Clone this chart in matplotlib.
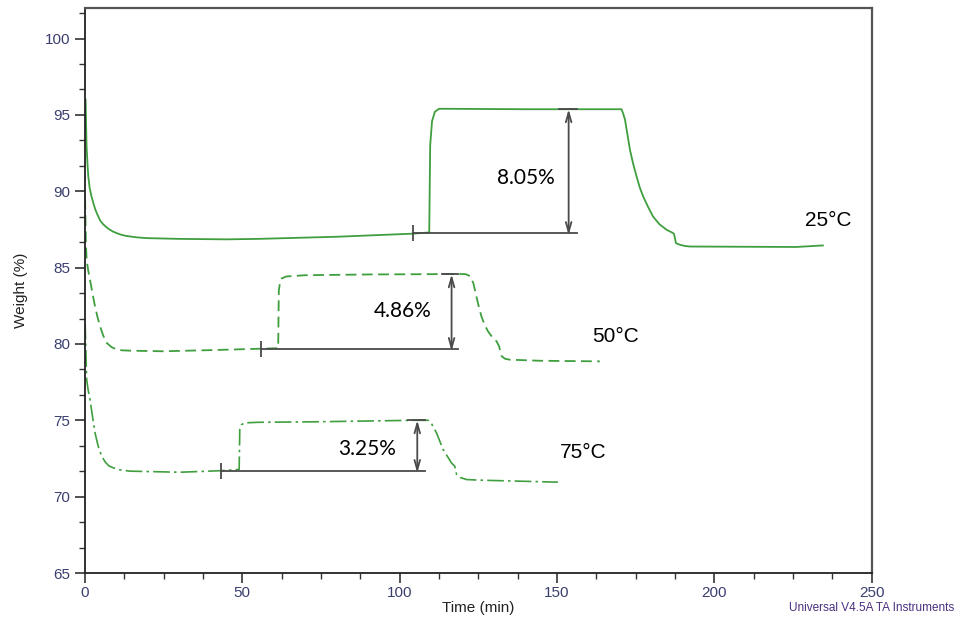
import matplotlib
matplotlib.use('Agg')
import matplotlib.pyplot as plt
from matplotlib.ticker import MultipleLocator

# sorption curves (time in min, weight in %)
t25 = [0.2, 0.5, 0.8, 1.05, 1.5, 2.1, 2.7, 3.3, 4.0, 4.8, 5.6, 6.5, 7.6, 8.9, 10.2, 11.5, 13.0, 14.3,
       16.5, 19.6, 30, 45, 55, 80, 104, 109.4, 109.7, 110.3, 111.2,
       112.5, 115, 140, 170.5, 171.0, 171.6, 172.4, 173.2, 174.2, 175.3, 176.3, 177.4, 179.0, 180.5,
       182.5, 184.8, 186.9, 187.2, 187.8, 189, 190.5, 192.2, 226, 234.5]
w25 = [96.0, 93.0, 91.8, 91.0, 90.2, 89.65, 89.2, 88.8, 88.45, 88.1, 87.88, 87.7, 87.52, 87.36, 87.25, 87.15, 87.08, 87.04,
       86.98, 86.93, 86.88, 86.85, 86.88, 87.02, 87.22, 87.3, 93.0, 94.6, 95.2,
       95.4, 95.4, 95.37, 95.37, 95.1, 94.7, 93.7, 92.7, 91.8, 90.96, 90.25, 89.65, 88.95, 88.35,
       87.85, 87.48, 87.26, 87.2, 86.6, 86.5, 86.42, 86.38, 86.35, 86.45]

t50 = [0.05, 0.3, 0.54, 1.0, 1.6, 2.4, 3.2, 4.0, 4.8, 5.8, 6.9, 8.4, 10.1, 12.0, 14.3, 24.9, 40.8,
       56.1, 61.4, 61.6, 62.0, 62.6, 64, 70, 90,
       119.1, 121.0, 122.3, 123.4, 124.4, 125.2, 126.0, 127.0, 128.1, 129.4, 130.8, 131.6, 132.4, 133.5, 135, 144.5, 163.6]
w50 = [89.5, 86.6, 85.5, 84.85, 84.2, 83.3, 82.46, 81.75, 81.15, 80.55, 80.07, 79.8, 79.63, 79.58, 79.56, 79.52, 79.6,
       79.69, 79.72, 83.5, 84.05, 84.3, 84.42, 84.5, 84.55,
       84.58, 84.57, 84.45, 84.0, 83.1, 82.4, 81.8, 81.25, 80.82, 80.45, 80.17, 79.85, 79.2, 79.03, 78.97, 78.9, 78.86]

t75 = [0.05, 0.54, 1.0, 1.6, 2.4, 3.2, 4.2, 5.3, 6.5, 7.7, 9.0, 11.0, 14.3, 30.2, 43.1, 49.0, 49.2, 49.7, 50.6,
       55, 72.5, 104.3, 109.1, 110.2, 111.7, 113.8, 116.5, 117.5, 118.1, 119.3, 121.3, 125.5, 150.3]
w75 = [81.4, 77.67, 77.0, 76.36, 75.25, 74.18, 73.3, 72.65, 72.25, 72.0, 71.89, 71.76, 71.67, 71.6, 71.7, 71.78, 74.4, 74.7, 74.83,
       74.87, 74.9, 75.0, 75.0, 74.75, 74.18, 73.09, 72.2, 72.0, 71.45, 71.25, 71.12, 71.08, 70.95]

# step annotations: baseline start/end, arrow x, base and top weight
ann_start = [104.2, 56.1, 43.1]
ann_end = [156.3, 118.6, 108.0]
ann_arrow = [153.7, 116.5, 105.6]
ann_base = [87.28, 79.69, 71.7]
ann_top = [95.37, 84.56, 75.0]
ann_text = ['8.05%', '4.86%', '3.25%']
ann_text_x = [140.0, 101.0, 89.6]
ann_text_y = [90.86, 82.17, 73.1]

temps = ['25°C', '50°C', '75°C']
temp_x = [228.7, 161.3, 150.9]
temp_y = [88.1, 80.48, 72.9]

green = '#3f9f3f'
grey = '#4a4a4a'
tickc = '#3a3f6e'

fig = plt.figure(figsize=(9.6, 6.24), dpi=100)
ax = fig.add_axes([0.0885, 0.0817, 0.8195, 0.9055])

ax.plot(t25, w25, color=green, lw=1.3, solid_joinstyle='round')
ax.plot(t50, w50, color=green, lw=1.3, dashes=(6, 3))
ax.plot(t75, w75, color=green, lw=1.2, dashes=(10, 2.5, 1.5, 2.5))

for i in range(3):
    ax.plot([ann_start[i], ann_end[i]], [ann_base[i], ann_base[i]], color=grey, lw=1.3)
    ax.plot([ann_start[i]], [ann_base[i]], marker='|', ms=12, mew=1.3, color=grey)
    ax.plot([ann_arrow[i] - 3, ann_end[i]], [ann_top[i], ann_top[i]], color=grey, lw=1.3)
    ax.annotate('', xy=(ann_arrow[i], ann_top[i]), xytext=(ann_arrow[i], ann_base[i] - 0.15),
                arrowprops=dict(arrowstyle='<->,head_length=0.7,head_width=0.2',
                                color=grey, lw=1.3, shrinkA=0, shrinkB=0))
    ax.text(ann_text_x[i], ann_text_y[i], ann_text[i], fontsize=15, family='Lato',
            ha='center', va='center', color='black')
    ax.text(temp_x[i], temp_y[i], temps[i], fontsize=15, family='Liberation Sans',
            ha='left', va='center', color='black')

ax.set_xlim(0, 250)
ax.set_ylim(65, 102)
ax.xaxis.set_major_locator(MultipleLocator(50))
ax.xaxis.set_minor_locator(MultipleLocator(12.5))
ax.yaxis.set_major_locator(MultipleLocator(5))
ax.yaxis.set_minor_locator(MultipleLocator(5 / 3))
ax.tick_params(which='major', length=7, width=1.2, color='#333333',
               labelsize=11, labelcolor=tickc)
ax.tick_params(axis='x', which='major', pad=2)
ax.tick_params(which='minor', length=4, width=1.0, color='#333333')
for lab in ax.get_xticklabels() + ax.get_yticklabels():
    lab.set_family('Liberation Sans')

for s in ['left', 'bottom']:
    ax.spines[s].set_color('#222222')
    ax.spines[s].set_linewidth(1.3)
for s in ['top', 'right']:
    ax.spines[s].set_color('#555555')
    ax.spines[s].set_linewidth(1.6)

ax.set_xlabel('Time (min)', fontsize=11, family='Liberation Sans', color='#222222', labelpad=1)
ax.set_ylabel('Weight (%)', fontsize=11, family='Liberation Sans', color='#222222', labelpad=12)

fig.text(0.9945, 0.026, 'Universal V4.5A TA Instruments', fontsize=8.5,
         family='Liberation Sans', color='#4b2f7f', ha='right', va='center')

fig.savefig('out.png', dpi=100)
